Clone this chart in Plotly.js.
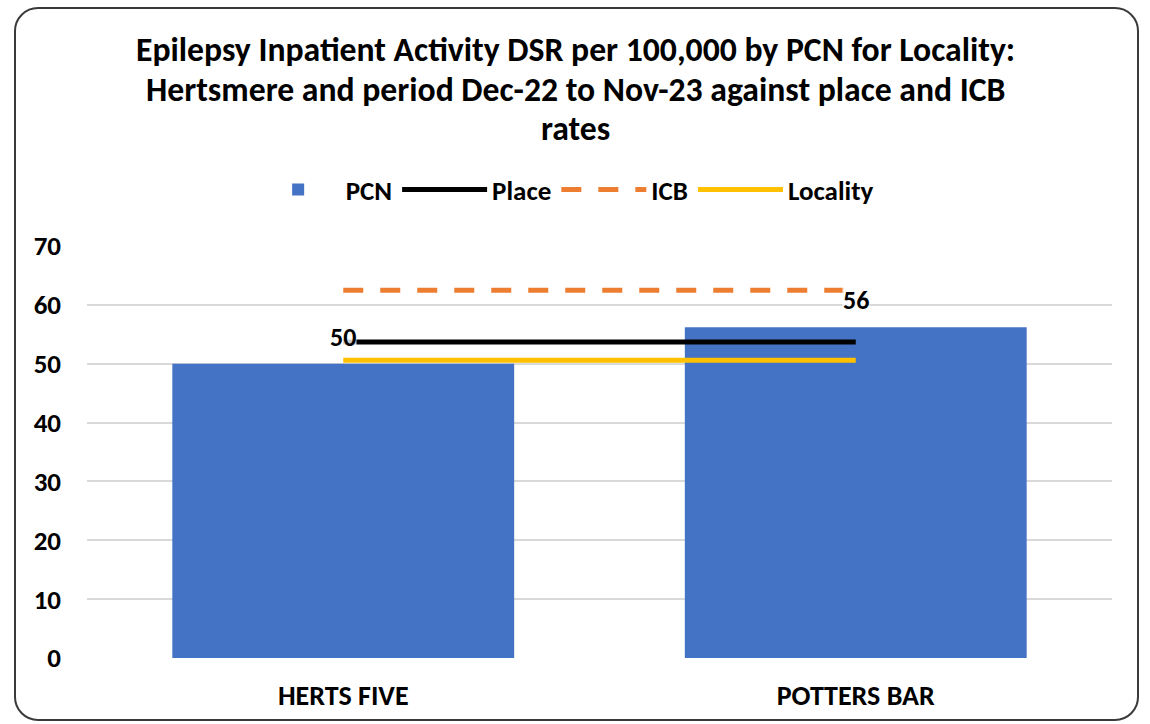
<!DOCTYPE html>
<html>
<head>
<meta charset="utf-8">
<script src="https://cdn.plot.ly/plotly-3.0.1.min.js"></script>
<style>
  html, body { margin: 0; padding: 0; background: #fff; }
  #frame { position: absolute; left: 14px; top: 7px; width: 1125px; height: 714px;
           border: 2px solid #3a3a3a; border-radius: 24px; box-sizing: border-box; }
  #chart { position: absolute; left: 0; top: 0; width: 1150px; height: 724px; }
</style>
</head>
<body>
<div id="frame"></div>
<div id="chart"></div>
<script>
const categories = ["HERTS FIVE", "POTTERS BAR"];
const pcnValues = [50.0, 56.2];
const pcnLabels = ["50", "56"];
const placeRate = 53.7;
const icbRate = 62.5;
const localityRate = 50.6;
const titleLines = [
  "Epilepsy Inpatient Activity DSR per 100,000 by PCN for Locality:",
  "Hertsmere and period Dec-22 to Nov-23 against place and ICB",
  "rates"
];

const FONT = "Carlito, 'Liberation Sans Narrow', 'Liberation Sans', Arial, sans-serif";

const traces = [
  { type: 'bar', name: 'PCN', x: categories, y: pcnValues,
    marker: { color: '#4472C4' }, hoverinfo: 'x+y' },
  { type: 'scatter', mode: 'lines', name: 'Place', x: categories, y: categories.map(() => placeRate),
    line: { color: '#000000', width: 5 } },
  { type: 'scatter', mode: 'lines', name: 'ICB', x: categories, y: categories.map(() => icbRate),
    line: { color: '#ED7D31', width: 5, dash: '20px,17px' } },
  { type: 'scatter', mode: 'lines', name: 'Locality', x: categories, y: categories.map(() => localityRate),
    line: { color: '#FFC000', width: 5 } }
];

const titleY = [1.476, 1.379, 1.286];
const annotations = titleLines.map((t, i) => ({
  text: '<b>' + t + '</b>', xref: 'paper', yref: 'paper', x: 0.477, y: titleY[i],
  xanchor: 'center', yanchor: 'middle', showarrow: false,
  font: { family: FONT, size: 33.7, color: '#000' }
}));
categories.forEach((c, i) => {
  annotations.push({
    text: '<b>' + pcnLabels[i] + '</b>', x: c, y: pcnValues[i], xref: 'x', yref: 'y',
    yshift: 27, showarrow: false, bgcolor: 'rgba(255,255,255,0.8)', borderpad: 0,
    font: { family: FONT, size: 26, color: '#000' }
  });
});

const layout = {
  width: 1150, height: 724,
  paper_bgcolor: 'rgba(0,0,0,0)', plot_bgcolor: 'rgba(0,0,0,0)',
  margin: { l: 87, r: 38, t: 246, b: 66 },
  font: { family: FONT, size: 26, color: '#000' },
  bargap: 0.333,
  showlegend: true,
  legend: { orientation: 'h', x: 0.466, xanchor: 'center', y: 1.136, yanchor: 'middle',
            font: { family: FONT, size: 27, color: '#000', weight: 'bold' },
            itemwidth: 85, traceorder: 'normal', bgcolor: 'rgba(0,0,0,0)' },
  xaxis: { type: 'category', showgrid: false, zeroline: false, showline: false,
           tickfont: { family: FONT, size: 28, weight: 'bold' }, ticklabelstandoff: 18 },
  yaxis: { range: [0, 70], dtick: 10, showgrid: true, gridcolor: '#d9d9d9', gridwidth: 2,
           zeroline: false, showline: false,
           tickfont: { family: FONT, size: 27, weight: 'bold' }, ticklabelstandoff: 25 },
  annotations: annotations
};

Plotly.newPlot('chart', traces, layout, { displayModeBar: false, staticPlot: true });
</script>
</body>
</html>
